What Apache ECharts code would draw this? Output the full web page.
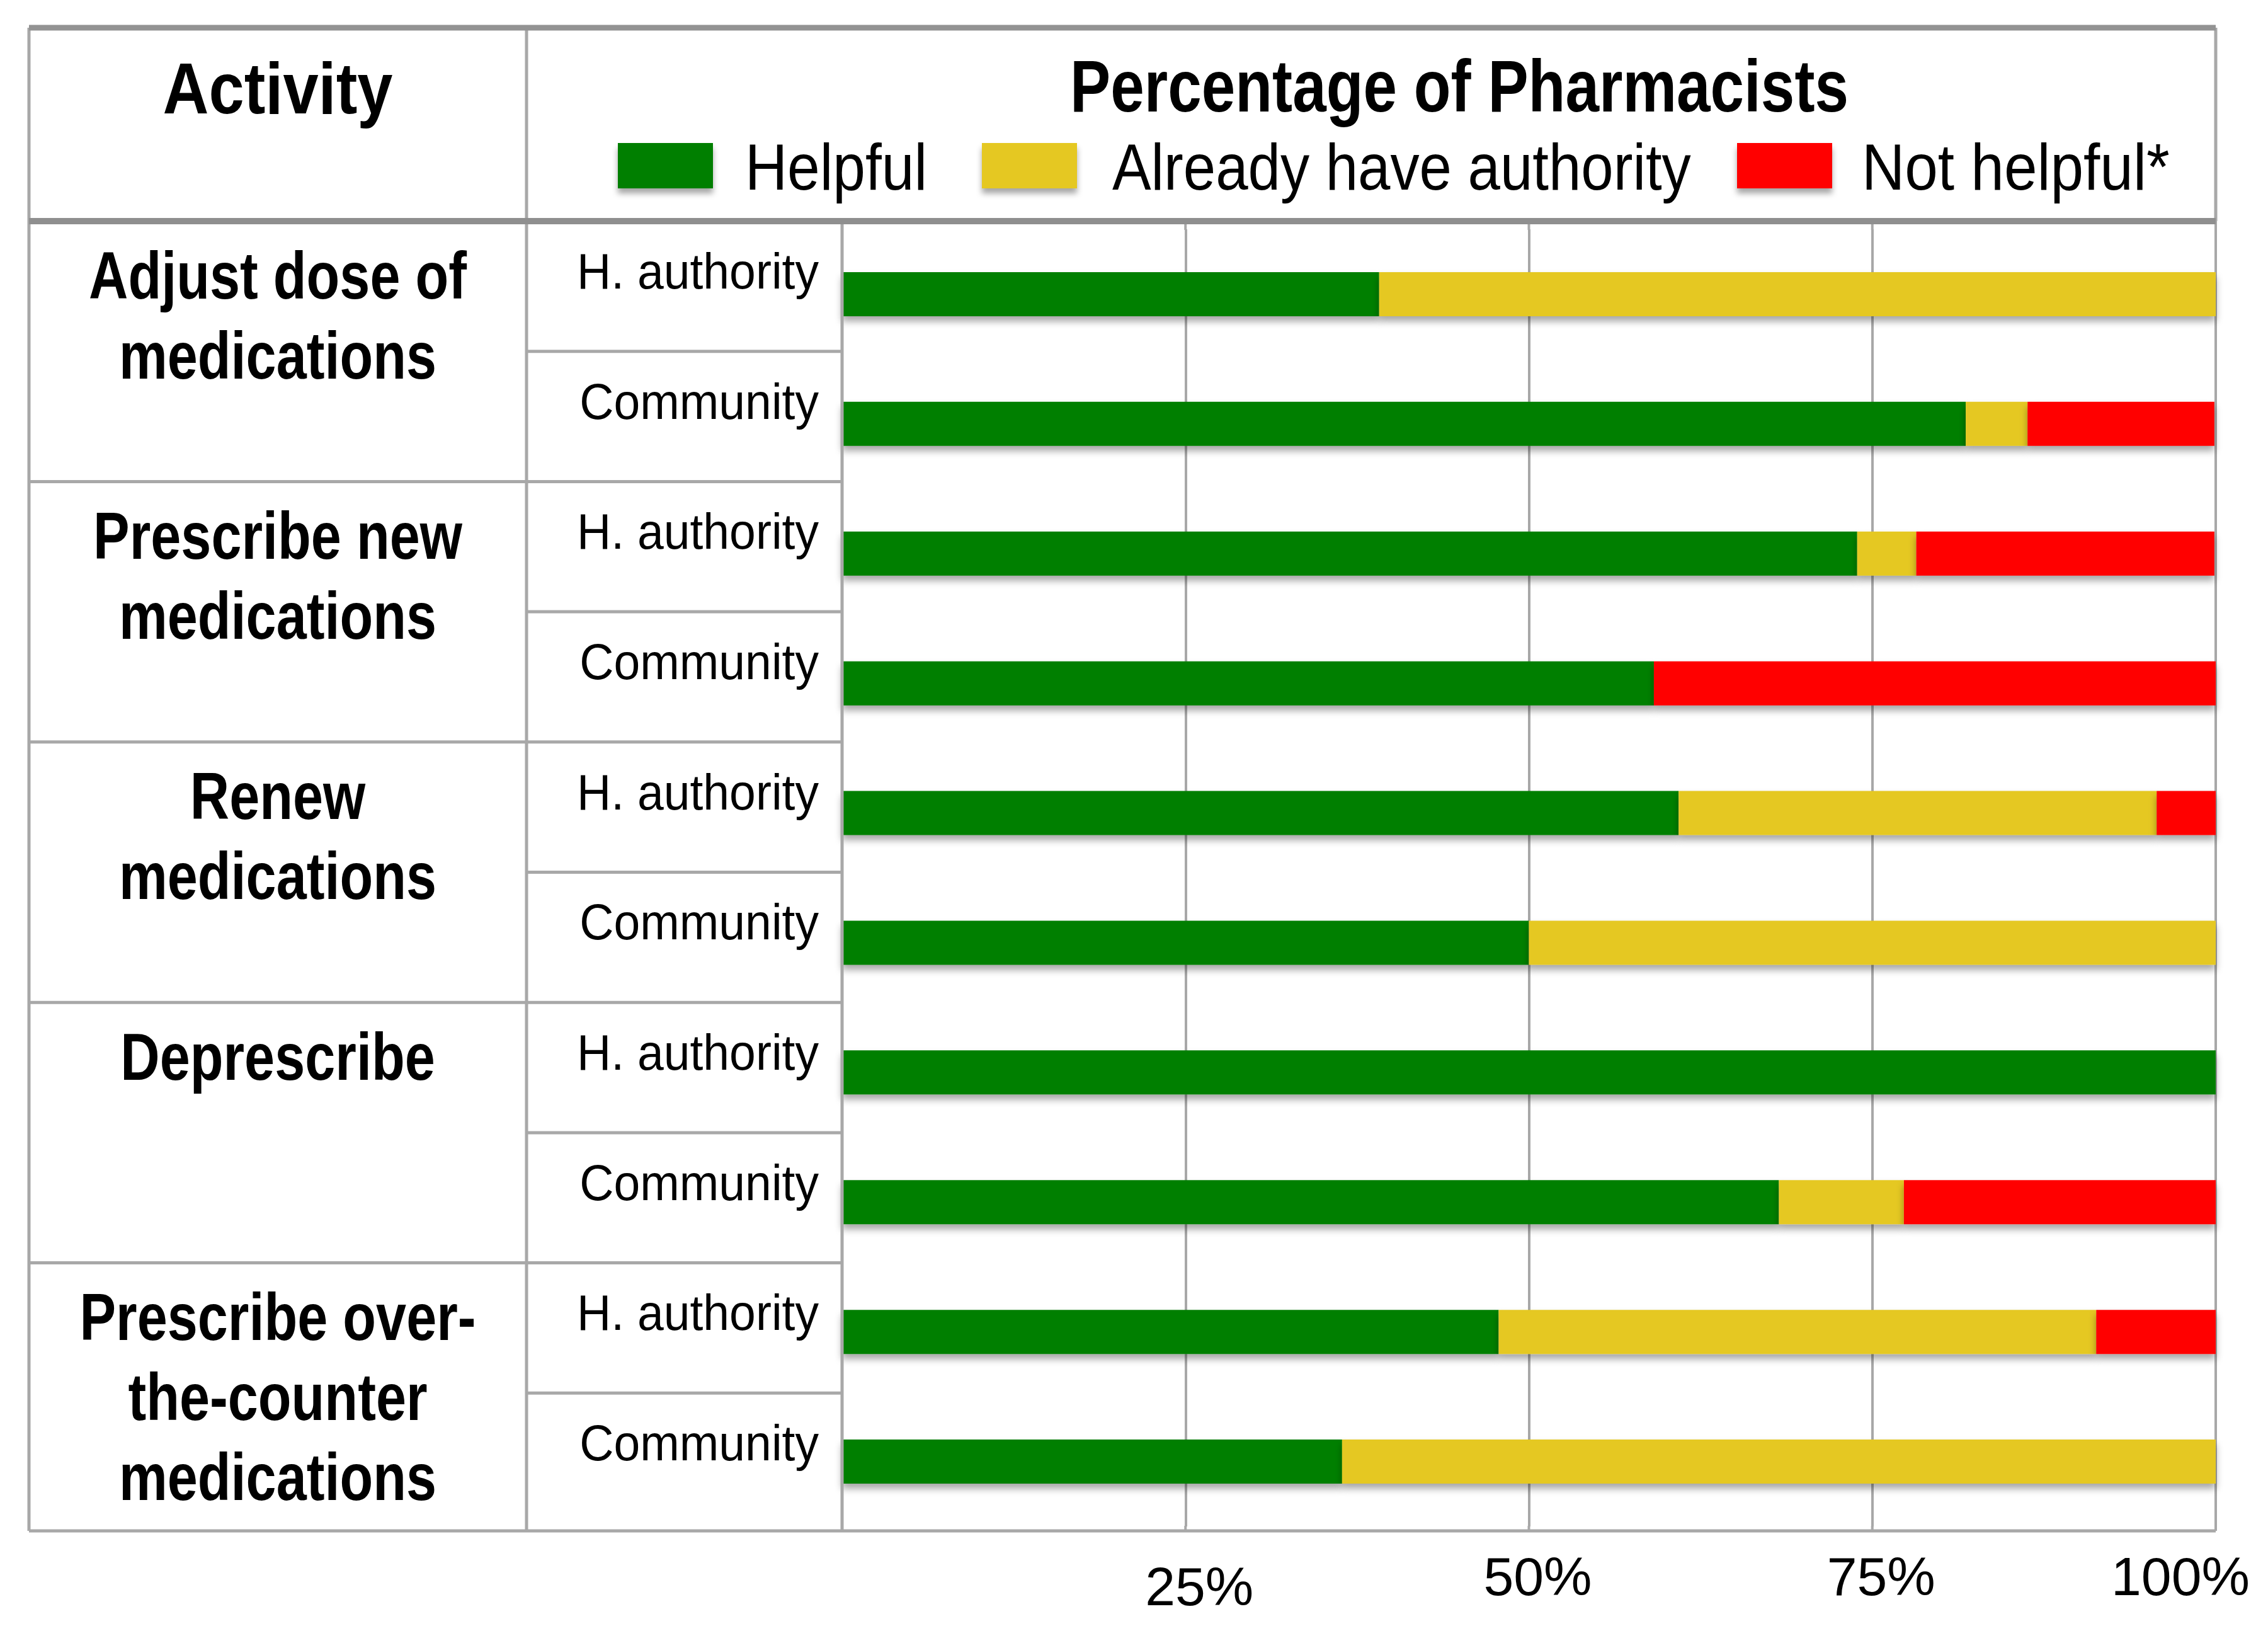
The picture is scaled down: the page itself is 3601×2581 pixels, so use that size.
<!DOCTYPE html>
<html>
<head>
<meta charset="utf-8">
<script src="https://cdn.jsdelivr.net/npm/echarts@6/dist/echarts.min.js"></script>
<style>
html,body{margin:0;padding:0;background:#ffffff;}
#chart{width:3601px;height:2581px;}
</style>
</head>
<body>
<div id="chart"></div>
<script>
// ---------------- data ----------------
const activities = [
  'Adjust dose of\nmedications',
  'Prescribe new\nmedications',
  'Renew\nmedications',
  'Deprescribe',
  'Prescribe over-\nthe-counter\nmedications'
];
const settings = ['H. authority', 'Community'];
const seriesNames = ['Helpful', 'Already have authority', 'Not helpful*'];
const helpful     = [39.1, 81.8, 73.9, 59.1, 60.9, 50.0, 100, 68.2, 47.8, 36.4];
const alreadyHave = [60.9,  4.5,  4.3,  0.0, 34.8, 50.0,   0,  9.1, 43.5, 63.6];
const notHelpful  = [ 0.0, 13.6, 21.7, 40.9,  4.3,  0.0,   0, 22.7,  8.7,  0.0];
const tickValues = [0, 25, 50, 75, 100];
const tickLabels = ['', '25%', '50%', '75%', '100%'];
const headerActivity = 'Activity';
const headerTitle = 'Percentage of Pharmacists';

const categories = [];
activities.forEach(a => settings.forEach(s => categories.push(a.replace(/\n/g, ' ') + ' \u2013 ' + s)));

// ---------------- fonts ----------------
const mctx = document.createElement('canvas').getContext('2d');
function fontAvailable(name) {
  const s = 'abcdefghijklmnopqrstuvwxyz ABCDEFGHIJKLMNOPQRSTUVWXYZ 0123456789%';
  mctx.font = '100px monospace';
  const a = mctx.measureText(s).width;
  mctx.font = '100px "' + name + '", monospace';
  const b = mctx.measureText(s).width;
  return Math.abs(a - b) > 1;
}
const narrow = fontAvailable('Liberation Sans Narrow');
const FF = narrow ? '"Liberation Sans Narrow", "Liberation Sans", sans-serif' : '"Liberation Sans", sans-serif';
function measure(text, size, weight) {
  mctx.font = weight + ' ' + size + 'px ' + FF;
  return mctx.measureText(text).width;
}
const boldSize = 105, regSize = 80, titleSize = 117, actSize = 115, legendSize = 104;
const boldScale = 600 / measure('Adjust dose of', boldSize, 'bold');
const regScale = 384 / measure('H. authority', regSize, 'normal');
const titleScale = 1236 / measure(headerTitle, titleSize, 'bold');
const actScale = 365 / measure(headerActivity, actSize, 'bold');
const axisSize = narrow ? 94 : 86;

// ---------------- layout ----------------
const L = {left: 46, c1: 836, c2: 1337, right: 3518, top: 44, head: 351, bottom: 2430};
const plotTop = 364, plotBottom = 2423;
const rowH = 206.7;
const rowTop = i => L.head + i * rowH;
const lineColor = '#a8a8a8';
const legendBoxLeft = [981, 1559, 2758];
const legendTextBox = [[1183, 289], [1766, 919], [2956, 489]];

const graphics = [];
function hline(x1, x2, y, w, c, z) {
  graphics.push({type: 'line', z: z || 50, silent: true,
    shape: {x1: x1, y1: y, x2: x2, y2: y}, style: {stroke: c || lineColor, lineWidth: w || 5}});
}
function vline(x, y1, y2, w, c, z) {
  graphics.push({type: 'line', z: z || 50, silent: true,
    shape: {x1: x, y1: y1, x2: x, y2: y2}, style: {stroke: c || lineColor, lineWidth: w || 5}});
}
function text(t, x, y, size, weight, align, scale, lh) {
  graphics.push({type: 'text', z: 60, silent: true, x: x, y: y, scaleX: scale, scaleY: 1,
    style: {text: t, fontSize: size, fontWeight: weight, fontFamily: FF, fill: '#000',
      align: align, textAlign: align, verticalAlign: 'middle', textVerticalAlign: 'middle',
      lineHeight: lh || size * 1.2}});
}

// frame
vline(L.left, L.top, L.bottom);
vline(L.c1, L.top, L.bottom);
vline(L.c2, L.head, L.bottom);
vline(L.right, L.top, L.head);
hline(L.left, L.right, L.bottom);
for (let i = 1; i < activities.length * settings.length; i++) {
  const y = rowTop(i);
  if (i % 2 === 0) hline(L.left, L.c2, y); else hline(L.c1, L.c2, y);
}
hline(L.left, L.right, L.top, 9, '#939393', 80);
hline(L.left, L.right, L.head, 10, '#8f8f8f', 80);

// header texts
text(headerActivity, (L.left + L.c1) / 2, 140, actSize, 'bold', 'center', actScale);
text(headerTitle, 2317, 137, titleSize, 'bold', 'center', titleScale);

// legend labels (icons come from the legend component)
seriesNames.forEach((n, i) => {
  const sc = legendTextBox[i][1] / measure(n, legendSize, 'normal');
  text(n, legendTextBox[i][0], 265, legendSize, 'normal', 'left', sc);
});

// activity labels
const lh = 127;
activities.forEach((a, g) => {
  const n = a.split('\n').length;
  const y = rowTop(g * 2) + 86 + (n - 1) / 2 * lh;
  text(a, (L.left + L.c1) / 2, y, boldSize, 'bold', 'center', boldScale, lh);
});
// setting labels
for (let i = 0; i < activities.length * settings.length; i++) {
  text(settings[i % 2], 1300, rowTop(i) + 79, regSize, 'normal', 'right', regScale);
}

// ---------------- chart ----------------
const colors = ['#007f00', '#e5c822', '#ff0000'];
const dataSets = [helpful, alreadyHave, notHelpful];

const chart = echarts.init(document.getElementById('chart'), null, {renderer: 'svg', width: 3601, height: 2581});
chart.setOption({
  animation: false,
  backgroundColor: '#ffffff',
  grid: {left: L.c2, right: 3601 - L.right, top: plotTop, bottom: 2581 - plotBottom, containLabel: false},
  legend: seriesNames.map((n, i) => ({
    data: [n], left: legendBoxLeft[i], top: 227, padding: 0, orient: 'horizontal',
    itemWidth: 151, itemHeight: 72, icon: 'rect', selectedMode: false,
    formatter: function () { return ''; },
    itemStyle: {shadowBlur: 10, shadowColor: 'rgba(0,0,0,0.35)', shadowOffsetY: 8},
    textStyle: {fontSize: legendSize, fontFamily: FF, color: '#000'}
  })),
  xAxis: {
    type: 'value', min: 0, max: 100, interval: 25,
    axisLine: {show: false},
    axisTick: {show: false},
    splitLine: {show: true, lineStyle: {color: lineColor, width: 4}},
    axisLabel: {
      show: true, margin: 36, fontSize: axisSize, fontFamily: FF, color: '#000',
      showMinLabel: true, showMaxLabel: true,
      formatter: function (v) {
        const idx = tickValues.indexOf(v);
        const s = idx >= 0 ? tickLabels[idx] : '';
        if (!s) return '';
        if (v === tickValues[tickValues.length - 1]) return '{e|' + s + '}';
        if (v === tickValues[1]) return '{l|' + s + '}';
        return '{m|' + s + '}';
      },
      rich: {
        e: {fontSize: axisSize, fontFamily: FF, color: '#000', padding: [0, 112, 0, 0]},
        l: {fontSize: axisSize, fontFamily: FF, color: '#000', padding: [16, 0, 0, 44]},
        m: {fontSize: axisSize, fontFamily: FF, color: '#000', padding: [0, 0, 0, 28]}
      }
    }
  },
  yAxis: {
    type: 'category', data: categories, inverse: true,
    axisLine: {show: false},
    axisTick: {show: false}, axisLabel: {show: false}, splitLine: {show: false}
  },
  series: seriesNames.map((n, i) => ({
    type: 'bar', name: n, stack: 'total', data: dataSets[i], barWidth: 70, silent: true,
    itemStyle: {color: colors[i], shadowBlur: 12, shadowColor: 'rgba(0,0,0,0.35)', shadowOffsetY: 8}
  }))
});

// extend the value-axis grid lines up to the header line and down to the table bottom
tickValues.forEach(v => {
  const px = chart.convertToPixel({xAxisIndex: 0}, v);
  vline(px, L.head, plotTop + 1, 4, lineColor, 40);
  vline(px, plotBottom - 1, L.bottom, 4, lineColor, 40);
});
chart.setOption({graphic: {elements: graphics}});
</script>
</body>
</html>
